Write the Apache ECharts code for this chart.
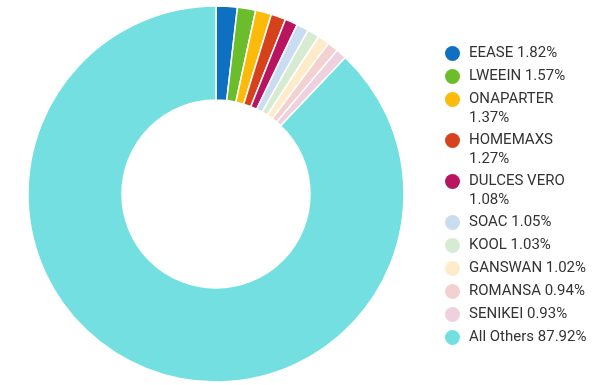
<!DOCTYPE html>
<html>
<head>
<meta charset="utf-8">
<script src="https://cdn.jsdelivr.net/npm/echarts@6/dist/echarts.min.js"></script>
<style>
html,body{margin:0;padding:0;background:#fff;}
#chart{width:608px;height:385px;}
</style>
</head>
<body>
<div id="chart"></div>
<script>
var categories = ['EEASE','LWEEIN','ONAPARTER','HOMEMAXS','DULCES VERO','SOAC','KOOL','GANSWAN','ROMANSA','SENIKEI','All Others'];
var values = [1.82,1.57,1.37,1.27,1.08,1.05,1.03,1.02,0.94,0.93,87.92];
var colors = ['#0f6fc0','#6cbd2b','#fcbb0a','#d6421c','#b8145f','#c9dcf0','#d7ebd2','#fdebc9','#f4d1d1','#eed0df','#73dfe0'];
var wrapped = ['ONAPARTER','HOMEMAXS','DULCES VERO'];

var chart = echarts.init(document.getElementById('chart'), null, {renderer:'canvas'});

var FONT = 'Roboto';
var legends = [];
var graphics = [];
var y = 53;
categories.forEach(function(name, i){
  var isWrap = wrapped.indexOf(name) >= 0;
  var pct = values[i].toFixed(2) + '%';
  legends.push({
    data: [{name: name, icon: 'circle'}],
    icon: 'circle',
    orient: 'vertical',
    left: 445,
    top: y - 7,
    padding: 0,
    itemWidth: 15,
    itemHeight: 15,
    itemGap: 0,
    selectedMode: false,
    itemStyle: {borderWidth: 0},
    textStyle: {fontFamily: FONT, fontSize: 15, color: '#333', padding: [0, 0, 0, 4]},
    formatter: function(n){ return isWrap ? n : n + ' ' + pct; }
  });
  if (isWrap) {
    graphics.push({
      type: 'text', left: 469, top: y + 20 - 8,
      style: {text: pct, fontFamily: FONT, fontSize: 15, fill: '#333'}
    });
    y += 41;
  } else {
    y += 23;
  }
});

chart.setOption({
  backgroundColor: '#fff',
  animation: false,
  color: colors,
  legend: legends,
  graphic: graphics,
  series: [{
    type: 'pie',
    center: [216, 194],
    radius: [94, 188],
    startAngle: 90,
    clockwise: true,
    label: {show: false},
    labelLine: {show: false},
    itemStyle: {borderColor: '#fff', borderWidth: 1.5},
    emphasis: {disabled: true},
    data: categories.map(function(c, i){ return {name: c, value: values[i]}; })
  }]
});
</script>
</body>
</html>
